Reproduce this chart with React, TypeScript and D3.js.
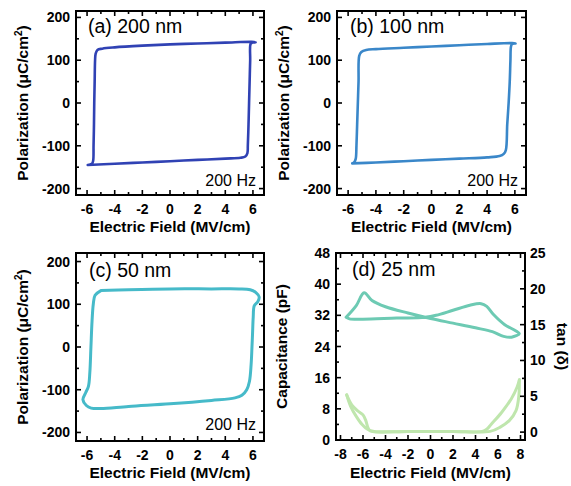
import React from 'react';
import * as d3 from 'd3';

type Pt = [number, number];

const FONT = "'Liberation Sans', Arial, Helvetica, sans-serif";

// tick labels
const polTicks = [-200, -100, 0, 100, 200];
const field6Ticks = [-6, -4, -2, 0, 2, 4, 6];
const field8Ticks = [-8, -6, -4, -2, 0, 2, 4, 6, 8];
const capTicks = [0, 8, 16, 24, 32, 40, 48];
const tanTicks = [0, 5, 10, 15, 20, 25];

// (a) 200 nm P-E loop [E (MV/cm), P (uC/cm2)]
const loopA: Pt[] = [
  [-5.95, -145], [-4, -142], [-2, -139], [0, -136], [2, -133], [4, -130], [5.1, -128], [5.45, -125],
  [5.6, -117], [5.63, -100], [5.68, -50], [5.72, 0], [5.76, 50], [5.8, 100], [5.83, 138], [5.95, 141],
  [6.2, 142], [5.9, 143], [4, 141], [2, 139], [0, 137], [-2, 134], [-4, 130], [-4.9, 127], [-5.25, 124],
  [-5.38, 115], [-5.42, 100], [-5.45, 50], [-5.48, 0], [-5.5, -50], [-5.53, -100], [-5.56, -135],
  [-5.65, -142], [-5.95, -145],
];
// (b) 100 nm
const loopB: Pt[] = [
  [-5.7, -141], [-4, -139], [-2, -136], [0, -133], [2, -130], [4, -127], [4.9, -124], [5.2, -119],
  [5.35, -110], [5.45, -50], [5.55, 0], [5.63, 50], [5.68, 100], [5.72, 132], [5.8, 138], [6.05, 139],
  [5.8, 140], [4, 138], [2, 135], [0, 132], [-2, 129], [-4, 126], [-4.7, 124], [-5.05, 119], [-5.2, 110],
  [-5.25, 50], [-5.3, 0], [-5.35, -50], [-5.4, -100], [-5.45, -130], [-5.55, -138], [-5.7, -141],
];
// (c) 50 nm
const loopC: Pt[] = [
  [-5.0, 132], [-3, 134], [0, 136], [3, 136], [5, 136], [5.8, 134], [6.2, 128], [6.45, 117], [6.35, 106],
  [6.1, 97], [6.02, 70], [5.97, 30], [5.93, 0], [5.87, -40], [5.75, -80], [5.55, -100], [5.2, -113],
  [4.7, -119], [3, -125], [0, -133], [-3, -139], [-5, -144], [-5.7, -143], [-6.05, -137], [-6.3, -123],
  [-6.1, -107], [-5.9, -92], [-5.8, -60], [-5.72, 0], [-5.64, 60], [-5.55, 100], [-5.42, 121], [-5.0, 132],
];
// (d) 25 nm capacitance (pF)
const capLoop: Pt[] = [
  [-7.5, 31.5], [-6.6, 34.5], [-5.9, 37.8], [-5.2, 35.8], [-4, 34.2], [-2, 32.6], [0, 31.2], [2, 30.0],
  [4, 28.8], [5.5, 27.8], [6.5, 26.6], [7.2, 26.4], [7.9, 27.3], [7.6, 28.0], [6.6, 29.6], [5.6, 32.2],
  [5.0, 34.3], [4.5, 35.0], [3.5, 34.6], [2, 33.3], [0.5, 32.0], [-0.5, 31.5], [-3, 31.3], [-6, 31.0],
  [-7.2, 31.1], [-7.5, 31.5],
];
// (d) 25 nm tan(delta)
const tanForward: Pt[] = [
  [-7.45, 5.2], [-7.1, 3.6], [-6.6, 2.2], [-6.1, 1.1], [-5.6, 0.4], [-5.0, 0.1], [-2, 0.1], [2, 0.1],
  [4.6, 0.1], [5.0, 0.4], [5.4, 1.1], [6.3, 2.7], [7.2, 4.7], [7.7, 6.3], [7.9, 7.3],
];
const tanBackward: Pt[] = [
  [7.9, 7.3], [7.85, 5.0], [7.6, 3.0], [7.0, 1.6], [6.2, 0.7], [5.3, 0.1], [2, 0.1], [-2, 0.1],
  [-5.35, 0.15], [-5.55, 0.6], [-5.75, 1.6], [-6.0, 2.4], [-6.5, 3.0], [-7.0, 3.8], [-7.45, 5.2],
];

interface Series { data: Pt[]; color: string; width: number; right?: boolean; }
interface PanelProps {
  x0: number; x1: number; y0: number; y1: number;
  xDomain: [number, number]; xTicks: number[]; xMinor: number;
  yDomain: [number, number]; yTicks: number[]; yMinor: number;
  y2Domain?: [number, number]; y2Ticks?: number[]; y2Minor?: number;
  series: Series[];
  label: string; labelX: number; labelY: number;
  hz?: { x: number; y: number };
  yTitle: React.ReactNode; yTitleX: number;
  y2Title?: string; y2TitleX?: number;
  xTitleY: number;
}

function range(domain: [number, number], step: number) {
  const s = Math.ceil(domain[0] / step - 1e-9) * step;
  return d3.range(s, domain[1] + 1e-9, step);
}

function Panel(p: PanelProps) {
  const xs = d3.scaleLinear().domain(p.xDomain).range([p.x0, p.x1]);
  const ys = d3.scaleLinear().domain(p.yDomain).range([p.y1, p.y0]);
  const ys2 = p.y2Domain ? d3.scaleLinear().domain(p.y2Domain).range([p.y1, p.y0]) : null;
  const isMajor = (v: number, t: number[]) => t.some((m) => Math.abs(m - v) < 1e-6);
  const xm = range(p.xDomain, p.xMinor);
  const ym = range(p.yDomain, p.yMinor);
  const y2m = ys2 && p.y2Domain && p.y2Minor ? range(p.y2Domain, p.y2Minor) : null;
  const cx = (p.x0 + p.x1) / 2;
  const cy = (p.y0 + p.y1) / 2;
  return (
    <g>
      <defs>
        <clipPath id={`clip-${p.label.slice(1, 2)}`}>
          <rect x={p.x0} y={p.y0} width={p.x1 - p.x0} height={p.y1 - p.y0} />
        </clipPath>
      </defs>
      <g clipPath={`url(#clip-${p.label.slice(1, 2)})`}>
        {p.series.map((s, i) => {
          const sy = s.right && ys2 ? ys2 : ys;
          const line = d3.line<Pt>().x((d) => xs(d[0])).y((d) => sy(d[1])).curve(d3.curveCatmullRom.alpha(0.5));
          return <path key={i} d={line(s.data) || ''} fill="none" stroke={s.color} strokeWidth={s.width} strokeLinejoin="round" strokeLinecap="round" />;
        })}
      </g>
      {xm.map((v) => {
        const l = isMajor(v, p.xTicks) ? 5 : 3;
        return (
          <g key={'x' + v}>
            <line x1={xs(v)} x2={xs(v)} y1={p.y1} y2={p.y1 - l} stroke="#000" strokeWidth={1.6} />
            <line x1={xs(v)} x2={xs(v)} y1={p.y0} y2={p.y0 + l} stroke="#000" strokeWidth={1.6} />
          </g>
        );
      })}
      {ym.map((v) => {
        const l = isMajor(v, p.yTicks) ? 5 : 3;
        return (
          <g key={'y' + v}>
            <line x1={p.x0} x2={p.x0 + l} y1={ys(v)} y2={ys(v)} stroke="#000" strokeWidth={1.6} />
            {!ys2 && <line x1={p.x1} x2={p.x1 - l} y1={ys(v)} y2={ys(v)} stroke="#000" strokeWidth={1.6} />}
          </g>
        );
      })}
      {ys2 && y2m && y2m.map((v) => {
        const l = isMajor(v, p.y2Ticks || []) ? 5 : 3;
        return <line key={'r' + v} x1={p.x1} x2={p.x1 - l} y1={ys2(v)} y2={ys2(v)} stroke="#000" strokeWidth={1.6} />;
      })}
      <rect x={p.x0} y={p.y0} width={p.x1 - p.x0} height={p.y1 - p.y0} fill="none" stroke="#000" strokeWidth={2} />
      {p.xTicks.map((v) => (
        <text key={'xl' + v} x={xs(v)} y={p.y1 + 19} textAnchor="middle" fontFamily={FONT} fontWeight="bold" fontSize={14}>{v}</text>
      ))}
      {p.yTicks.map((v) => (
        <text key={'yl' + v} x={p.x0 - 6} y={ys(v) + 5} textAnchor="end" fontFamily={FONT} fontWeight="bold" fontSize={14}>{v}</text>
      ))}
      {ys2 && p.y2Ticks && p.y2Ticks.map((v) => (
        <text key={'rl' + v} x={p.x1 + 5} y={ys2(v) + 5} textAnchor="start" fontFamily={FONT} fontWeight="bold" fontSize={14}>{v}</text>
      ))}
      <text x={p.labelX} y={p.labelY} fontFamily={FONT} fontSize={19.5}>{p.label}</text>
      {p.hz && <text x={p.hz.x} y={p.hz.y} textAnchor="end" fontFamily={FONT} fontSize={16}>200 Hz</text>}
      <text x={cx} y={p.xTitleY} textAnchor="middle" fontFamily={FONT} fontWeight="bold" fontSize={15.5}>Electric Field (MV/cm)</text>
      <text transform={`translate(${p.yTitleX},${cy}) rotate(-90)`} textAnchor="middle" fontFamily={FONT} fontWeight="bold" fontSize={15.5}>{p.yTitle}</text>
      {p.y2Title && (
        <text transform={`translate(${p.y2TitleX},${cy}) rotate(90)`} textAnchor="middle" fontFamily={FONT} fontWeight="bold" fontSize={15.5}>{p.y2Title}</text>
      )}
    </g>
  );
}

const polTitle = (
  <>
    Polarization (μC/cm<tspan fontSize={10} dy={-6}>2</tspan><tspan dy={6}>)</tspan>
  </>
);

export default function App() {
  return (
    <svg width={571} height={486} style={{ position: 'absolute', left: 0, top: 0, background: '#fff' }}>
      <rect x={0} y={0} width={571} height={486} fill="#fff" />
      <Panel x0={76} x1={264} y0={11} y1={195} xDomain={[-6.8, 6.8]} xTicks={field6Ticks} xMinor={1}
        yDomain={[-215, 215]} yTicks={polTicks} yMinor={50}
        series={[{ data: loopA, color: '#3042b4', width: 2.6 }]}
        label="(a) 200 nm" labelX={88} labelY={33} hz={{ x: 256, y: 186 }}
        yTitle={polTitle} yTitleX={28} xTitleY={232} />
      <Panel x0={337} x1={526} y0={11} y1={195} xDomain={[-6.8, 6.8]} xTicks={field6Ticks} xMinor={1}
        yDomain={[-215, 215]} yTicks={polTicks} yMinor={50}
        series={[{ data: loopB, color: '#3a87c9', width: 2.6 }]}
        label="(b) 100 nm" labelX={350} labelY={33} hz={{ x: 518, y: 186 }}
        yTitle={polTitle} yTitleX={289} xTitleY={232} />
      <Panel x0={76} x1={264} y0={253} y1={441} xDomain={[-6.8, 6.8]} xTicks={field6Ticks} xMinor={1}
        yDomain={[-220, 220]} yTicks={polTicks} yMinor={50}
        series={[{ data: loopC, color: '#46bac9', width: 3 }]}
        label="(c) 50 nm" labelX={89} labelY={277} hz={{ x: 256, y: 430 }}
        yTitle={polTitle} yTitleX={28} xTitleY={478} />
      <Panel x0={336} x1={525} y0={253} y1={440} xDomain={[-8.4, 8.4]} xTicks={field8Ticks} xMinor={1}
        yDomain={[0, 48]} yTicks={capTicks} yMinor={4}
        y2Domain={[-1.1, 25]} y2Ticks={tanTicks} y2Minor={2.5}
        series={[
          { data: tanForward, color: '#bfe6ad', width: 3, right: true },
          { data: tanBackward, color: '#bfe6ad', width: 3, right: true },
          { data: capLoop, color: '#6dcab3', width: 3 },
        ]}
        label="(d) 25 nm" labelX={352} labelY={276}
        yTitle="Capacitance (pF)" yTitleX={287} y2Title="tan (δ)" y2TitleX={557} xTitleY={478} />
    </svg>
  );
}
